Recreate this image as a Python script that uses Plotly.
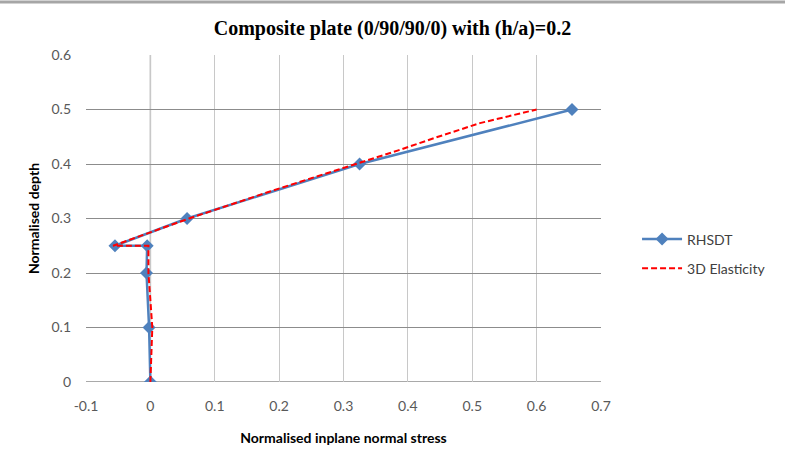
import plotly.graph_objects as go

# RHSDT series (normalised inplane normal stress vs normalised depth)
rhsdt_stress = [0.0, -0.002, -0.006, -0.005, -0.055, 0.057, 0.325, 0.655]
rhsdt_depth = [0.0, 0.1, 0.2, 0.25, 0.25, 0.3, 0.4, 0.5]

# 3D Elasticity series
elas_stress = [0.0, 0.003, -0.003, -0.003, -0.058, 0.06, 0.187, 0.32, 0.385, 0.447, 0.512, 0.6]
elas_depth = [0.0, 0.1, 0.2, 0.25, 0.25, 0.3, 0.35, 0.4, 0.425, 0.45, 0.475, 0.5]

x_ticks = [-0.1, 0, 0.1, 0.2, 0.3, 0.4, 0.5, 0.6, 0.7]
x_labels = ["-0.1", "0", "0.1", "0.2", "0.3", "0.4", "0.5", "0.6", "0.7"]
y_ticks = [0, 0.1, 0.2, 0.3, 0.4, 0.5, 0.6]
y_labels = ["0", "0.1", "0.2", "0.3", "0.4", "0.5", "0.6"]

title_text = "Composite plate (0/90/90/0) with (h/a)=0.2"
x_title = "Normalised inplane normal stress"
y_title = "Normalised depth"

fig = go.Figure()
fig.add_trace(go.Scatter(
    x=rhsdt_stress, y=rhsdt_depth, mode="lines+markers", name="RHSDT",
    legendgroup="a",
    line=dict(color="#4F81BD", width=2.5),
    marker=dict(symbol="diamond", size=10, color="#4F81BD"),
))
fig.add_trace(go.Scatter(
    x=elas_stress, y=elas_depth, mode="lines", name="3D Elasticity",
    legendgroup="b",
    line=dict(color="#FF0000", width=2, dash="6px,3px"),
))

sans = "Lato, Open Sans, sans-serif"
tickfont = dict(family=sans, size=14, color="#595959")
fig.update_layout(
    width=785, height=466,
    margin=dict(l=86, r=184, t=55, b=84),
    paper_bgcolor="white", plot_bgcolor="white",
    title=dict(text="<b>" + title_text + "</b>", x=0.5, xanchor="center",
               y=1 - 28 / 466, yanchor="middle",
               font=dict(family="Liberation Serif, Times New Roman, serif", size=20, color="#000000")),
    xaxis=dict(range=[-0.1, 0.7], tickvals=x_ticks, ticktext=x_labels,
               showgrid=True, gridcolor="#C8C8C8", gridwidth=1,
               zeroline=False, showline=False, ticks="",
               ticklabelstandoff=14, tickfont=tickfont,
               title=dict(text="<b>" + x_title + "</b>", standoff=20,
                          font=dict(family=sans, size=14, color="#000000"))),
    yaxis=dict(range=[0, 0.6], tickvals=y_ticks, ticktext=y_labels,
               showgrid=True, gridcolor="#8C8C8C", gridwidth=1,
               zeroline=False, showline=False, ticks="",
               ticklabelstandoff=14, tickfont=tickfont,
               title=dict(text="<b>" + y_title + "</b>", standoff=8,
                          font=dict(family=sans, size=14, color="#000000"))),
    legend=dict(x=1.07, y=(382 - 254) / 327, xanchor="left", yanchor="middle",
                font=dict(family=sans, size=14, color="#404040"),
                bgcolor="rgba(0,0,0,0)", tracegroupgap=8, itemwidth=40),
    showlegend=True,
)
# vertical line at x=0 (axis) and x-axis line
fig.add_shape(type="line", xref="x", yref="paper", x0=0, x1=0, y0=0, y1=1,
              line=dict(color="#B4B4B4", width=1.5), layer="below")
fig.add_shape(type="line", xref="paper", yref="y", x0=0, x1=1, y0=0, y1=0,
              line=dict(color="#8C8C8C", width=1.5), layer="below")
# top frame line
fig.add_shape(type="line", xref="paper", yref="paper", x0=-86 / 515, x1=699 / 515,
              y0=(382 - 2) / 327, y1=(382 - 2) / 327,
              line=dict(color="#A6A6A6", width=3))

fig.write_html("out.html")
